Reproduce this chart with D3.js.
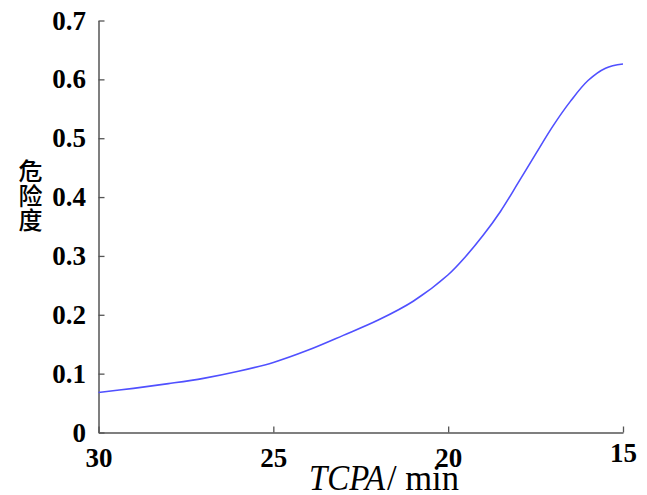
<!DOCTYPE html>
<html>
<head>
<meta charset="utf-8">
<script src="https://cdn.jsdelivr.net/npm/d3@7"></script>
<style>
  html, body { margin: 0; padding: 0; background: #fff; }
  svg { display: block; }
</style>
</head>
<body>
<script>
// ---- data ----
const tcpa = [30, 29, 28, 27, 26, 25, 24, 23, 22, 21, 20, 19.5, 19, 18.5, 18, 17.5, 17, 16.5, 16, 15.5, 15];
const risk = [0.068, 0.075, 0.083, 0.092, 0.104, 0.119, 0.140, 0.165, 0.191, 0.223, 0.268, 0.299, 0.335, 0.376, 0.424, 0.473, 0.521, 0.563, 0.598, 0.619, 0.626];
const xTicks = [30, 25, 20, 15];
const yTicks = [0, 0.1, 0.2, 0.3, 0.4, 0.5, 0.6, 0.7];
const yLabelChars = ["危", "险", "度"];
const xTitleMain = "TCPA";
const xTitleUnit = "/ min";

(function () {
const W = 647, H = 495;
const mLeft = 98.5, mRight = 623, mTop = 20.5, mBottom = 432.5;

const svg = d3.select("body").append("svg").attr("width", W).attr("height", H);

const x = d3.scaleLinear().domain([30, 15]).range([mLeft, mRight]);
const y = d3.scaleLinear().domain([0, 0.7]).range([mBottom, mTop]);

const axisColor = "#555";
const tickFont = "'Liberation Serif', 'Times New Roman', serif";

// x axis
const gx = svg.append("g").attr("transform", `translate(0,${mBottom})`)
  .call(d3.axisBottom(x).tickValues(xTicks).tickFormat(d3.format("d"))
    .tickSizeInner(-6).tickSizeOuter(0).tickPadding(15));
gx.select(".domain").attr("stroke", axisColor).attr("stroke-width", 1.5);
gx.selectAll(".tick line").attr("stroke", axisColor).attr("stroke-width", 1.3);
gx.selectAll(".tick text")
  .attr("fill", "#000")
  .style("font-family", tickFont).style("font-weight", "bold").style("font-size", "27px")
  .attr("dy", d => d === 15 ? "0.55em" : "0.71em");

// y axis
const gy = svg.append("g").attr("transform", `translate(${mLeft},0)`)
  .call(d3.axisLeft(y).tickValues(yTicks).tickFormat(d => d === 0 ? "0" : d3.format(".1f")(d))
    .tickSizeInner(-6).tickSizeOuter(0).tickPadding(12.5));
gy.select(".domain").attr("stroke", axisColor).attr("stroke-width", 1.5);
gy.selectAll(".tick line").attr("stroke", axisColor).attr("stroke-width", 1.3);
gy.selectAll(".tick text")
  .attr("fill", "#000")
  .style("font-family", tickFont).style("font-weight", "bold").style("font-size", "27px");

// curve
const pts = tcpa.map((t, i) => [t, risk[i]]);
svg.append("path")
  .datum(pts)
  .attr("fill", "none")
  .attr("stroke", "#5050ff")
  .attr("stroke-width", 1.6)
  .attr("d", d3.line().x(d => x(d[0])).y(d => y(d[1])).curve(d3.curveCatmullRom.alpha(0.5)));

// y label (vertical stacked)
yLabelChars.forEach((c, i) => {
  svg.append("text")
    .attr("x", 30.5).attr("y", 180 + i * 24.5)
    .attr("text-anchor", "middle")
    .style("font-family", "'Noto Sans CJK SC', sans-serif")
    .style("font-weight", "500")
    .style("font-size", "24px")
    .attr("fill", "#000")
    .text(c);
});

// x title
svg.append("text")
  .attr("x", 309).attr("y", 490)
  .style("font-family", tickFont).style("font-style", "italic")
  .style("font-size", "36px").attr("fill", "#000")
  .attr("textLength", 76).attr("lengthAdjust", "spacingAndGlyphs")
  .text(xTitleMain);
svg.append("text")
  .attr("x", 387).attr("y", 490)
  .style("font-family", tickFont)
  .style("font-size", "36px").attr("fill", "#000")
  .attr("textLength", 72).attr("lengthAdjust", "spacingAndGlyphs")
  .text(xTitleUnit);
})();
</script>
</body>
</html>
